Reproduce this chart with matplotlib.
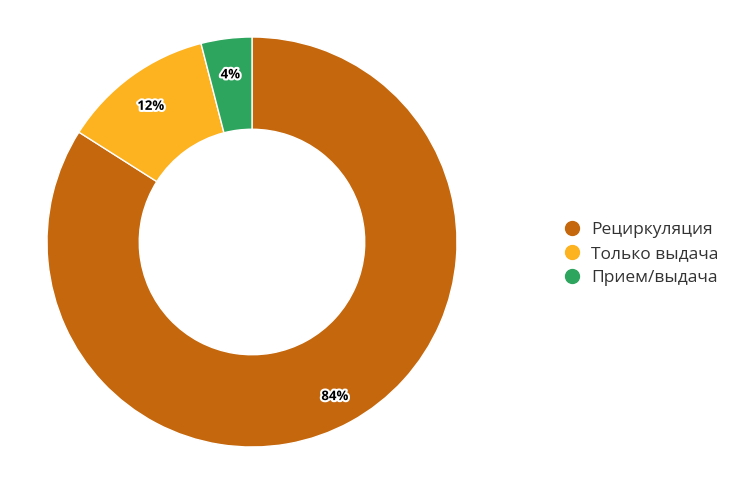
import matplotlib
matplotlib.use("Agg")
import matplotlib.pyplot as plt
import matplotlib.patheffects as pe
from matplotlib.lines import Line2D

categories = ["Рециркуляция", "Только выдача", "Прием/выдача"]
values = [84, 12, 4]
colors = ["#C5670C", "#FDB21F", "#2EA55E"]

plt.rcParams['font.family'] = ['Open Sans', 'DejaVu Sans']

W, H = 752, 479
fig = plt.figure(figsize=(W / 100, H / 100), dpi=100)
ax = fig.add_axes([47 / W, 32 / H, 410 / W, 410 / H])

wedges, texts, autotexts = ax.pie(
    values, colors=colors, startangle=90, counterclock=False,
    radius=1.0, pctdistance=0.84,
    autopct=lambda p: f"{p:.0f}%",
    wedgeprops=dict(width=0.45, edgecolor="white", linewidth=1),
)
for t in autotexts:
    x, y = t.get_position()
    t.set_position((x, y - 0.018))
    t.set_fontsize(9.5)
    t.set_fontweight("bold")
    t.set_color("black")
    t.set_path_effects([pe.withStroke(linewidth=3, foreground="white")])
ax.set_xlim(-1, 1)
ax.set_ylim(-1, 1)
ax.set_aspect("equal")
ax.axis("off")

handles = [Line2D([0], [0], marker="o", linestyle="", markersize=10,
                  markerfacecolor=c, markeredgecolor=c) for c in colors]
leg = fig.legend(handles, categories, loc="center left",
                 bbox_to_anchor=(542 / W, 1 - 254 / H),
                 frameon=False, fontsize=12.5, handletextpad=0.35,
                 handlelength=1.6, labelspacing=0.45, labelcolor="#333333")

fig.savefig("out.png", dpi=100)
